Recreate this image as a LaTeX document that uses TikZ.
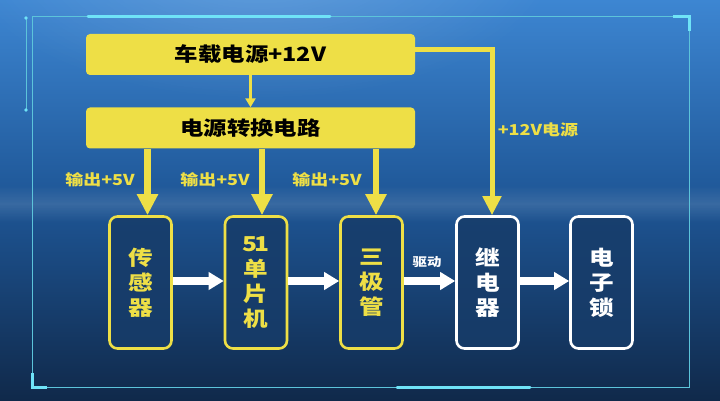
\documentclass[tikz,border=0pt]{standalone}
\usepackage{fontspec}
\setmainfont{Noto Sans CJK SC}[FakeStretch=1.2]
\usetikzlibrary{arrows.meta,calc,fadings}
\definecolor{yel}{HTML}{EEDF46}
\definecolor{bgtop}{HTML}{3D86D2}
\definecolor{bgmid}{HTML}{1E5696}
\definecolor{bgbot}{HTML}{10294A}
\definecolor{boxfill}{HTML}{173C69}
\definecolor{framec}{HTML}{5CC4DA}
\definecolor{accent}{HTML}{6FE3F7}
\tikzfading[name=bandfade,top color=transparent!100,bottom color=transparent!100,middle color=transparent!88]
\tikzfading[name=glowfade,inner color=transparent!80,outer color=transparent!100]
\begin{document}
\begin{tikzpicture}[x=1pt,y=-1pt,
  ybox/.style={fill=yel,draw=none,rounded corners=4pt,text=black,
    minimum width=329pt,minimum height=41pt,inner sep=0pt,
    font=\bfseries\fontsize{19.5}{19.5}\selectfont},
  lbox/.style={fill=boxfill,fill opacity=0.85,text opacity=1,line width=2.6pt,
    rounded corners=8pt,minimum width=62pt,minimum height=132pt,inner sep=0pt,
    align=center,font=\bfseries\fontsize{20.5}{25}\selectfont},
  ylbox/.style={lbox,draw=yel,text=yel},
  wlbox/.style={lbox,draw=white,text=white},
  ylabel/.style={text=yel,font=\bfseries\fontsize{15}{15}\selectfont,inner sep=0pt},
  yarrow/.style={draw=yel,line width=6.5pt,-{Triangle[width=20pt,length=21pt]}},
  warrow/.style={draw=white,line width=8pt,-{Triangle[width=17pt,length=15pt]}},
  thinarrow/.style={draw=yel,line width=3pt,-{Triangle[width=10pt,length=9pt]}},
  frameline/.style={draw=framec,line width=1pt},
  accentline/.style={draw=accent,line width=3pt,line cap=round}]
% background
\useasboundingbox (0,0) rectangle (720,401);
\shade[top color=bgtop,bottom color=bgbot,middle color=bgmid] (0,0) rectangle (720,401);
\fill[white,path fading=glowfade] (260,-40) ellipse (300pt and 140pt);
\fill[white,path fading=bandfade] (0,185) rectangle (720,222);
% frame
\draw[frameline] (32,17) rectangle (689,387);
\draw[accentline] (88,17) -- (330,17);
\draw[accentline] (397,387) -- (530,387);
\draw[accentline,line cap=butt] (32,373) -- (32,387) -- (47,387);
\draw[accentline,line cap=butt] (673,17) -- (689,17) -- (689,31);
\draw[frameline] (26,18) -- (26,110);
\fill[accent] (26,18) circle (1.8pt) (26,110) circle (1.8pt);
% top boxes
\node[ybox] (src) at (250.5,54.5) {车载电源+12V};
\node[ybox] (conv) at (250.5,128) {电源转换电路};
\draw[thinarrow] (src.south) -- (conv.north);
% lower boxes
\node[ylbox] (s1) at (140.5,282.5) {传\\感\\器};
\node[ylbox] (s2) at (256,282.5) {5\kern-2.5pt 1\\单\\片\\机};
\node[ylbox] (s3) at (371.5,282.5) {三\\极\\管};
\node[wlbox] (s4) at (487.5,282.5) {继\\电\\器};
\node[wlbox] (s5) at (601.5,282.5) {电\\子\\锁};
% 5V arrows
\coordinate (a1) at (147.5,0);
\coordinate (a2) at (262,0);
\coordinate (a3) at (376,0);
\draw[yarrow] (conv.south -| a1) -- (s1.north -| a1);
\draw[yarrow] (conv.south -| a2) -- (s2.north -| a2);
\draw[yarrow] (conv.south -| a3) -- (s3.north -| a3);
\node[ylabel] (l1) at (100,180) {输出+5V};
\node[ylabel] (l2) at (215,180) {输出+5V};
\node[ylabel] (l3) at (327,180) {输出+5V};
% 12V line to relay
\coordinate (r1) at (492,50);
\draw[draw=yel,line width=5pt,-{Triangle[width=18pt,length=19pt]}]
  (src.east |- r1) -- (r1) -- (s4.north -| r1);
\node[ylabel] (l12) at (538,130) {+12V电源};
% white arrows
\coordinate (h) at (0,281);
\draw[warrow] (s1.east |- h) -- (s2.west |- h);
\draw[warrow] (s2.east |- h) -- (s3.west |- h);
\draw[warrow] (s3.east |- h) -- (s4.west |- h);
\draw[warrow] (s4.east |- h) -- (s5.west |- h);
\node[text=white,font=\bfseries\fontsize{12}{12}\selectfont,inner sep=0pt] (drv) at (427,262) {驱动};
\end{tikzpicture}
\end{document}
